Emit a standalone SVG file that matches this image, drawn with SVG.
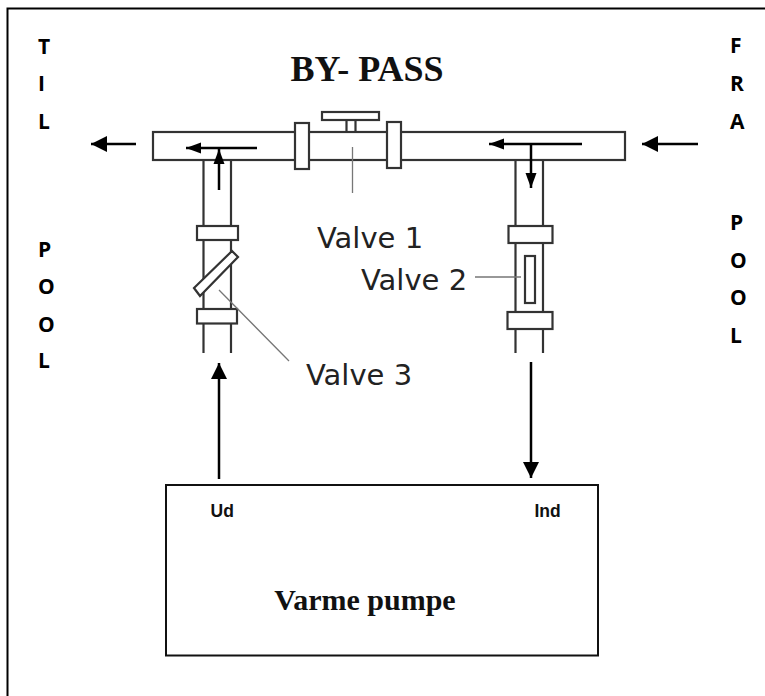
<svg xmlns="http://www.w3.org/2000/svg" width="765" height="696" viewBox="0 0 765 696">
<style>
.p{fill:#fff;stroke:#333;stroke-width:2.2}
.l{fill:none;stroke:#333;stroke-width:2.2}
.t{fill:none;stroke:#777;stroke-width:1.3}
.a{fill:none;stroke:#000;stroke-width:2.5;marker-end:url(#h)}
.i{fill:none;stroke:#000;stroke-width:2.5;marker-end:url(#n)}
.s{font-family:"Open Sans","Liberation Sans",sans-serif;font-weight:700;font-size:21px;fill:#000}
.u{font-family:"Liberation Sans",sans-serif;font-weight:700;font-size:17.500px;fill:#111}
.v{font-family:"DejaVu Sans",sans-serif;font-size:29px;fill:#222}
.b{font-family:"Liberation Serif",serif;font-weight:700;fill:#111}
</style>
<defs>
<marker id="h" markerUnits="userSpaceOnUse" markerWidth="17" markerHeight="17" refX="16" refY="8.500" orient="auto"><path d="M0 0.500L16 8.500L0 16.500z" fill="#000"/></marker>
<marker id="n" markerUnits="userSpaceOnUse" markerWidth="16" markerHeight="12" refX="15" refY="6" orient="auto"><path d="M0 0.500L15 6L0 11.500z" fill="#000"/></marker>
</defs>
<rect width="765" height="696" fill="#fff"/>
<path d="M765 8.500H7.500V696" fill="none" stroke="#000" stroke-width="2"/>
<g id="title"><text class="b" x="367" y="81" font-size="36" text-anchor="middle" fill="#222">BY- PASS</text></g>
<g id="til-pool">
<text class="s" x="38" y="54">T</text><text class="s" x="38" y="91">I</text><text class="s" x="38" y="129">L</text>
<text class="s" x="38" y="257">P</text><text class="s" x="38" y="294">O</text><text class="s" x="38" y="332">O</text><text class="s" x="38" y="368">L</text>
</g>
<g id="fra-pool">
<text class="s" x="730" y="53">F</text><text class="s" x="730" y="91">R</text><text class="s" x="730" y="129">A</text>
<text class="s" x="730" y="230">P</text><text class="s" x="730" y="268">O</text><text class="s" x="730" y="305">O</text><text class="s" x="730" y="343">L</text>
</g>
<g id="bypass-pipe">
<rect class="p" x="153" y="132" width="472" height="28"/>
<rect class="p" x="295" y="123" width="14" height="46"/>
<rect class="p" x="387" y="122" width="14" height="46"/>
<rect class="p" x="322" y="112" width="57" height="8"/>
<path class="l" d="M346.500 120V132M355.500 120V132"/>
</g>
<g id="left-pipe">
<path class="l" d="M203.500 160V353M231 160V353"/>
<rect class="p" x="197" y="226" width="41" height="14"/>
<rect class="p" x="197" y="309" width="40" height="14.500"/>
<path class="p" d="M194 288L232 251L238 257L200 296z"/>
</g>
<g id="right-pipe">
<path class="l" d="M515.500 160V353M543 160V353"/>
<rect class="p" x="508.500" y="226" width="44" height="17"/>
<rect class="p" x="507.500" y="312" width="45" height="17"/>
<rect class="p" x="525" y="256" width="10" height="47"/>
</g>
<g id="valve-1"><text class="v" x="317" y="248">Valve 1</text></g>
<g id="valve-2"><text class="v" x="361" y="290">Valve 2</text></g>
<g id="valve-3"><text class="v" x="306" y="385">Valve 3</text></g>
<g id="heat-pump">
<rect x="166" y="485" width="432" height="170.500" fill="#fff" stroke="#111" stroke-width="2"/>
<text class="u" x="210.500" y="517">Ud</text>
<text class="u" x="534.500" y="517">Ind</text>
<text class="b" x="365" y="610" font-size="30" text-anchor="middle">Varme pumpe</text>
</g>
<g id="connectors">
<path class="t" d="M352.500 147V193M475 277H521M219 290L289 361"/>
<path class="a" d="M136 144H91"/>
<path class="a" d="M698 144H642"/>
<path class="i" d="M257 148H186"/>
<path class="i" d="M219 190V149"/>
<path class="i" d="M582 144H489"/>
<path class="i" d="M531 144V188"/>
<path class="a" d="M219 479V363"/>
<path class="a" d="M531 362V478"/>
</g>
</svg>
